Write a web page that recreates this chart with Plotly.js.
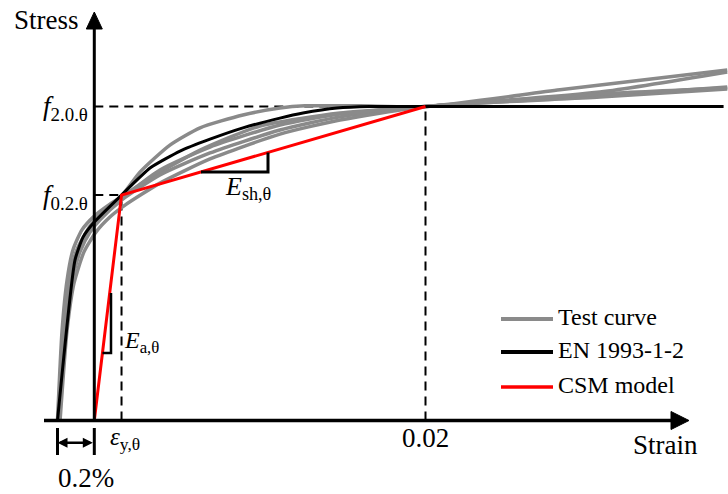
<!DOCTYPE html>
<html>
<head>
<meta charset="utf-8">
<script src="https://cdn.plot.ly/plotly-3.0.1.min.js"></script>
<style>
  html, body { margin: 0; padding: 0; background: #fff; }
  #chart { width: 728px; height: 494px; }
</style>
</head>
<body>
<div id="chart"></div>
<script>
// Stress–strain curves at elevated temperature (stress normalised by f2.0,θ)

// Test curves
const test1Strain = [0.00003, 0.00035, 0.00068, 0.00111, 0.00177, 0.00258, 0.00348, 0.00448, 0.00611, 0.00775, 0.01008, 0.01209, 0.01345, 0.01644, 0.0200, 0.02731, 0.0364];
const test1Stress = [0, 0.288, 0.447, 0.549, 0.619, 0.670, 0.715, 0.791, 0.877, 0.932, 0.973, 0.995, 1.002, 1.002, 1.0, 1.053, 1.116];
const test2Strain = [0, 0.00025, 0.00052, 0.00084, 0.00133, 0.0020, 0.00285, 0.00348, 0.00503, 0.00775, 0.01101, 0.01535, 0.0200, 0.02948, 0.0364];
const test2Stress = [0, 0.288, 0.447, 0.543, 0.607, 0.651, 0.689, 0.712, 0.772, 0.861, 0.938, 0.979, 1.0, 1.046, 1.110];
const test3Strain = [0.00008, 0.00046, 0.00079, 0.00122, 0.00177, 0.00231, 0.00348, 0.00557, 0.00829, 0.01209, 0.01535, 0.0200, 0.02948, 0.0364];
const test3Stress = [0, 0.288, 0.447, 0.537, 0.600, 0.639, 0.702, 0.782, 0.852, 0.925, 0.967, 1.0, 1.033, 1.062];
const test4Strain = [0.00014, 0.00052, 0.00090, 0.00144, 0.00209, 0.00285, 0.00367, 0.00557, 0.00829, 0.01209, 0.01535, 0.0200, 0.02948, 0.0364];
const test4Stress = [0, 0.288, 0.438, 0.537, 0.600, 0.648, 0.686, 0.756, 0.833, 0.912, 0.957, 1.0, 1.030, 1.056];
const test5Strain = [0.00003, 0.00030, 0.00063, 0.00101, 0.00155, 0.00220, 0.00348, 0.00557, 0.00829, 0.01209, 0.01535, 0.0200, 0.02948, 0.0364];
const test5Stress = [0, 0.288, 0.447, 0.537, 0.597, 0.638, 0.705, 0.798, 0.871, 0.941, 0.976, 1.0, 1.040, 1.059];

// EN 1993-1-2 material model
const enStrain = [0, 0.00095, 0.00139, 0.0020, 0.00348, 0.00503, 0.00666, 0.00829, 0.01008, 0.01209, 0.01334, 0.01519, 0.01698, 0.0362];
const enStress = [0, 0.511, 0.584, 0.632, 0.718, 0.804, 0.858, 0.896, 0.932, 0.963, 0.979, 0.995, 1.0, 1.0];

// CSM bilinear model: 0.2 % offset, yield point, then strain hardening to f2.0 at 0.02
const csmStrain = [0.002, 0.00348, 0.02];
const csmStress = [0, 0.718, 1.0];

const legendLabels = ['Test curve', 'EN 1993-1-2', 'CSM model'];
const strainTickValue = 0.02;
const strainTickLabel = '0.02';
const offsetLabel = '0.2%';

// colours and frame
const GREY = '#8a8a8a', BLACK = '#000000', RED = '#ff0000';
const FONT = 'Liberation Serif';
const W = 728, H = 494;
const X0 = -0.003125, X1 = 0.03644, Y0 = -0.23408, Y1 = 1.33917;
const xd = px => X0 + px / W * (X1 - X0);
const yd = py => Y1 - py / H * (Y1 - Y0);
const dx = px => px / W * (X1 - X0);
const dy = py => py / H * (Y1 - Y0);

const epsY = csmStrain[1], f02 = csmStress[1];
const eps20 = csmStrain[2], f20 = csmStress[2];
const offset = csmStrain[0];

// stress on the CSM line for a given strain, and its inverse on the elastic branch
function csmAt(e) {
  for (let i = 0; i < csmStrain.length - 1; i++) {
    if (e <= csmStrain[i + 1]) {
      const t = (e - csmStrain[i]) / (csmStrain[i + 1] - csmStrain[i]);
      return csmStress[i] + t * (csmStress[i + 1] - csmStress[i]);
    }
  }
  return csmStress[csmStress.length - 1];
}
const csmElasticStrain = s => csmStrain[0] + s / csmStress[1] * (csmStrain[1] - csmStrain[0]);

const greyLine = { color: GREY, width: 3.5, shape: 'spline', smoothing: 0.6 };
const tests = [
  [test1Strain, test1Stress], [test2Strain, test2Stress], [test3Strain, test3Stress],
  [test4Strain, test4Stress], [test5Strain, test5Stress]
];
const traces = tests.map(([x, y]) => ({
  x, y, type: 'scatter', mode: 'lines', line: greyLine, name: legendLabels[0],
  hoverinfo: 'skip', showlegend: false
}));
traces.push({ x: enStrain, y: enStress, type: 'scatter', mode: 'lines',
  line: { color: BLACK, width: 3, shape: 'spline', smoothing: 0.5 }, name: legendLabels[1], showlegend: false });
traces.push({ x: csmStrain, y: csmStress, type: 'scatter', mode: 'lines',
  line: { color: RED, width: 3 }, name: legendLabels[2], showlegend: false });

const dash = { color: BLACK, width: 2, dash: '9px,6px' };
const axisLine = { color: BLACK, width: 3 };
const shapes = [
  // reference lines
  { type: 'line', layer: 'below', x0: offset, x1: eps20, y0: f20, y1: f20, line: dash },
  { type: 'line', layer: 'below', x0: offset, x1: epsY, y0: f02, y1: f02, line: dash },
  { type: 'line', layer: 'below', x0: epsY, x1: epsY, y0: 0, y1: f02, line: dash },
  { type: 'line', layer: 'below', x0: eps20, x1: eps20, y0: 0, y1: f20, line: dash },
  // strain axis with arrow
  { type: 'line', x0: xd(44), x1: xd(672), y0: 0, y1: 0, line: { color: BLACK, width: 3.5 } },
  { type: 'path', path: `M ${xd(671)} ${dy(9)} L ${xd(689)} 0 L ${xd(671)} ${-dy(9)} Z`,
    fillcolor: BLACK, line: { color: BLACK, width: 1 } },
  // stress axis with arrow
  { type: 'line', x0: offset, x1: offset, y0: 0, y1: yd(28), line: axisLine },
  { type: 'path', path: `M ${offset - dx(8)} ${yd(29)} L ${offset} ${yd(12)} L ${offset + dx(8)} ${yd(29)} Z`,
    fillcolor: BLACK, line: { color: BLACK, width: 1 } },
  // 0.2 % offset dimension ticks
  { type: 'line', x0: 0, x1: 0, y0: yd(428), y1: yd(455), line: axisLine },
  { type: 'line', x0: offset, x1: offset, y0: yd(428), y1: yd(455), line: axisLine },
];

// slope triangle for the strain-hardening modulus
const sh1 = xd(201), sh2 = xd(268);
shapes.push({ type: 'path', path: `M ${sh1} ${csmAt(sh1)} L ${sh2} ${csmAt(sh1)} L ${sh2} ${csmAt(sh2)}`,
  line: { color: BLACK, width: 3 } });
// slope bracket for the elastic modulus
const ea = yd(353), eaX = xd(111);
shapes.push({ type: 'path', path: `M ${csmElasticStrain(ea)} ${ea} L ${eaX} ${ea} L ${eaX} ${yd(293)}`,
  line: { color: BLACK, width: 2.5 } });

// hand-made legend
const legendRows = [
  { py: 319, color: GREY, width: 4 },
  { py: 352, color: BLACK, width: 4 },
  { py: 387, color: RED, width: 3.5 },
];
legendRows.forEach(r => shapes.push({ type: 'line', xref: 'paper', yref: 'paper',
  x0: 501 / W, x1: 553 / W, y0: 1 - r.py / H, y1: 1 - r.py / H, line: { color: r.color, width: r.width } }));

const txt = (text, x, y, size, opts = {}) => Object.assign({
  text, x, y, xref: 'paper', yref: 'paper', showarrow: false,
  font: { family: FONT, size: size, color: BLACK }, xanchor: 'center', yanchor: 'middle'
}, opts);

const annotations = [
  txt('Stress', 46 / W, 1 - 20 / H, 27),
  txt('Strain', 665 / W, 1 - 445 / H, 27),
  txt('<i>f</i><sub>2.0.θ</sub>', 90 / W, 1 - 108 / H, 27, { xanchor: 'right' }),
  txt('<i>f</i><sub>0.2.θ</sub>', 90 / W, 1 - 197 / H, 27, { xanchor: 'right' }),
  txt('<i>E</i><sub>sh,θ</sub>', 223 / W, 1 - 188 / H, 26, { xanchor: 'left' }),
  txt('<i>E</i><sub>a,θ</sub>', 122 / W, 1 - 342 / H, 24, { xanchor: 'left' }),
  txt('<i>ε</i><sub>y,θ</sub>', 108 / W, 1 - 438 / H, 25, { xanchor: 'left' }),
  txt(offsetLabel, 86 / W, 1 - 478 / H, 27),
  Object.assign(txt(strainTickLabel, strainTickValue, 1 - 438 / H, 27), { xref: 'x' }),
  // 0.2 % dimension arrow
  { x: 0, y: yd(442.7), ax: offset, ay: yd(442.7), xref: 'x', yref: 'y', axref: 'x', ayref: 'y',
    text: '', showarrow: true, arrowside: 'end+start', arrowhead: 2, arrowsize: 0.8,
    arrowwidth: 2.5, arrowcolor: BLACK, standoff: 0, startstandoff: 0 },
];
legendLabels.forEach((label, i) => annotations.push(
  txt(label, 556 / W, 1 - (legendRows[i].py - 2) / H, 24, { xanchor: 'left' })));

const layout = {
  width: W, height: H,
  margin: { l: 0, r: 0, t: 0, b: 0 },
  paper_bgcolor: '#ffffff', plot_bgcolor: '#ffffff',
  showlegend: false,
  xaxis: { range: [X0, X1], visible: false, fixedrange: true },
  yaxis: { range: [Y0, Y1], visible: false, fixedrange: true },
  shapes, annotations,
  font: { family: FONT, size: 24, color: BLACK }
};

Plotly.newPlot('chart', traces, layout, { displayModeBar: false });
</script>
</body>
</html>
